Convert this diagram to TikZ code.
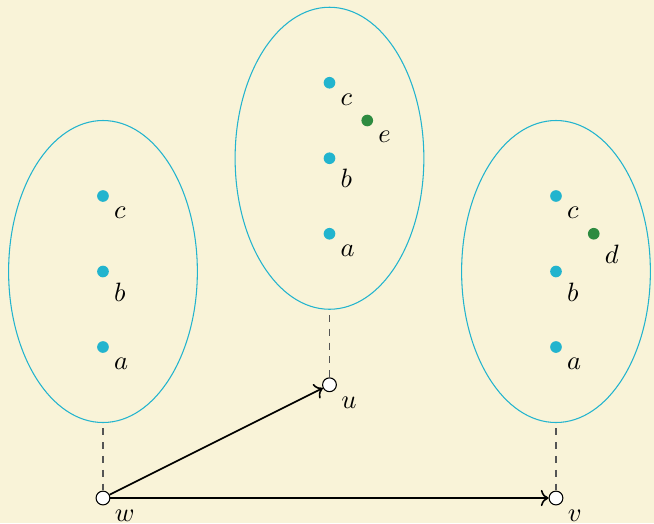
\documentclass[tikz,border=0pt]{standalone}
\usepackage{xcolor}
\usepackage{tikz}
\usetikzlibrary{arrows.meta,positioning,shapes.geometric}
\definecolor{bgCream}{HTML}{F9F3D8}
\definecolor{ptCyan}{HTML}{22B4CE}
\definecolor{ptGreen}{HTML}{2E8B40}
\definecolor{dashGray}{HTML}{555555}

\begin{document}
\begin{tikzpicture}[
  node distance=1cm, on grid,
  pt/.style={circle,fill=ptCyan,inner sep=0pt,minimum size=4.4pt},
  ptx/.style={circle,fill=ptGreen,inner sep=0pt,minimum size=4.4pt},
  base/.style={circle,draw=black,fill=white,inner sep=0pt,minimum size=5.2pt},
  blob/.style={ellipse,draw=ptCyan,inner sep=0pt,minimum width=2.5cm,minimum height=4cm},
  lbl/.style={label={[label distance=-1.5pt]below right:$#1$}},
  ar/.style={->,semithick},
  dl/.style={draw=dashGray,line width=0.55pt,dash pattern=on 2.6pt off 2.6pt,shorten <=2pt}
]
\fill[bgCream] (-1.364,-0.331) rectangle (7.298,6.596);
\useasboundingbox (-1.364,-0.331) rectangle (7.298,6.596);

% base points
\node[base,lbl=w] (w) at (0,0) {};
\node[base,lbl=u] (u) at (3,1.5) {};
\node[base,lbl=v] (v) at (6,0) {};

% fibres over each base point
\foreach \s in {w,u,v} {
  \node[blob,above=3 of \s] (E\s) {};
  \node[pt,above=2 of \s,lbl=a] (\s a) {};
  \node[pt,above=3 of \s,lbl=b] (\s b) {};
  \node[pt,above=4 of \s,lbl=c] (\s c) {};
  \draw[dl] (E\s.south) -- (\s);
}
\node[ptx,below right=0.5 and 0.5 of uc,lbl=e] (ue) {};
\node[ptx,below right=0.5 and 0.5 of vc,lbl=d] (vd) {};

\draw[ar] (w) -- (u);
\draw[ar] (w) -- (v);
\end{tikzpicture}
\end{document}
